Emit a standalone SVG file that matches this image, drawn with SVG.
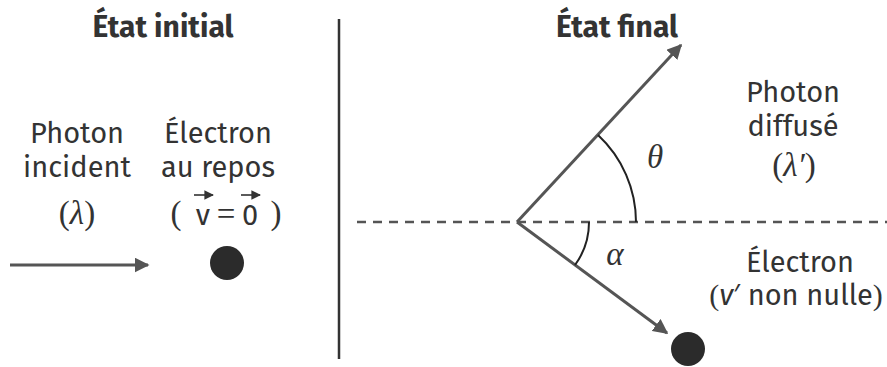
<svg xmlns="http://www.w3.org/2000/svg" width="887" height="367" viewBox="0 0 887 367">
<defs>
<style>
.t{font-family:"Fira Sans","Open Sans","Noto Sans",sans-serif;font-size:29px;fill:#333;text-anchor:middle}
.b{font-weight:bold;font-size:30px}
.m{font-family:"Liberation Serif","DejaVu Serif",serif;font-size:33px;fill:#333;text-anchor:middle}
.mp{font-family:"Liberation Serif","DejaVu Serif",serif;font-size:30px}
.ln{stroke:#555;stroke-width:3;fill:none}
.arc{stroke:#222;stroke-width:2;fill:none}
.dot{fill:#2b2b2b}
</style>
<marker id="ah" viewBox="0 0 10 10" refX="9" refY="5" markerWidth="5" markerHeight="5" markerUnits="strokeWidth" orient="auto">
<path d="M0,0 L10,5 L0,10 z" fill="#555"/>
</marker>
<marker id="sa" viewBox="0 0 10 10" refX="9" refY="5" markerWidth="6" markerHeight="6" markerUnits="strokeWidth" orient="auto">
<path d="M0,0 L10,5 L0,10 z" fill="#333"/>
</marker>
</defs>
<rect width="887" height="367" fill="#fff"/>
<g id="divider"><line x1="339" y1="19" x2="339" y2="359" stroke="#333" stroke-width="2.5"/></g>
<g id="titles">
<text class="t b" x="163" y="37">État initial</text>
<text class="t b" x="617" y="37">État final</text>
</g>
<g id="photon-incident">
<text class="t" x="77" y="143">Photon</text>
<text class="t" x="77" y="177">incident</text>
<text class="m" x="77" y="224"><tspan>(</tspan><tspan font-style="italic">λ</tspan><tspan>)</tspan></text>
</g>
<g id="electron-initial">
<text class="t" x="218" y="143">Électron</text>
<text class="t" x="218" y="177">au repos</text>
<text class="m" x="176" y="224">(</text>
<text class="t" x="203" y="225">v</text>
<text class="m" x="226" y="225">=</text>
<text class="t" x="250" y="225">0</text>
<text class="m" x="276" y="224">)</text>
<line x1="194" y1="195" x2="213" y2="195" stroke="#333" stroke-width="1.6" marker-end="url(#sa)"/>
<line x1="241" y1="195" x2="260" y2="195" stroke="#333" stroke-width="1.6" marker-end="url(#sa)"/>
<circle class="dot" cx="227" cy="263" r="17"/>
</g>
<g id="photon-diffuse">
<text class="t" x="793" y="102">Photon</text>
<text class="t" x="793" y="136">diffusé</text>
<text class="m" x="794" y="176"><tspan>(</tspan><tspan font-style="italic">λ′</tspan><tspan>)</tspan></text>
</g>
<g id="electron-final">
<text class="t" x="800" y="272">Électron</text>
<text class="t" x="796" y="305"><tspan class="mp">(</tspan><tspan font-style="italic">v</tspan>′ non nulle<tspan class="mp">)</tspan></text>
<circle class="dot" cx="688" cy="349" r="17"/>
</g>
<g id="connectors">
<line class="ln" x1="10" y1="265" x2="148" y2="265" marker-end="url(#ah)"/>
<line x1="357" y1="222" x2="887" y2="222" stroke="#555" stroke-width="2.5" stroke-dasharray="9,7"/>
<line class="ln" x1="517" y1="222" x2="681" y2="45" marker-end="url(#ah)"/>
<line class="ln" x1="517" y1="222" x2="667" y2="333" marker-end="url(#ah)"/>
<path class="arc" d="M598,135 A119,119 0 0 1 636,222"/>
<path class="arc" d="M589,222 A72,72 0 0 1 575,265"/>
<text class="m" x="655" y="168" font-style="italic">θ</text>
<text class="m" x="615" y="265" font-style="italic">α</text>
</g>
</svg>
